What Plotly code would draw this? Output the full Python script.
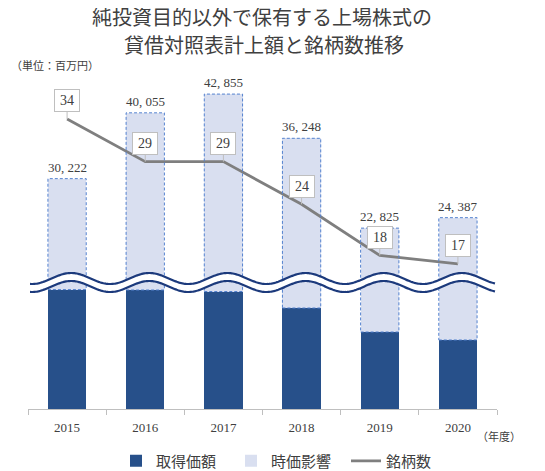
import numpy as np
import plotly.graph_objects as go

# ---------------- data ----------------
years = ["2015", "2016", "2017", "2018", "2019", "2020"]
total_value = [30222, 40055, 42855, 36248, 22825, 24387]        # 貸借対照表計上額 (百万円)
acquisition_cost = [11800, 11760, 11610, 9980, 7610, 6820]      # 取得価額 (estimated)
market_effect = [t - a for t, a in zip(total_value, acquisition_cost)]  # 時価影響
stock_count = [34, 29, 29, 24, 18, 17]                           # 銘柄数

# ---------------- style ----------------
DARK = "#27508A"
LIGHT = "#D9DFF0"
EDGE = "#5482CF"
WAVE = "#1C3A7C"
LINEC = "#7F7F7F"
TXT = "#404040"
FONT = "Liberation Serif, Noto Sans CJK JP, serif"
BAR_W = 0.49

SPLIT = 0.3845            # paper fraction where the axis is broken
LOW_RANGE = [0, 12500]
HIGH_RANGE = [14700, 44960]
COUNT_RANGE = [0, 38.57]

# the page body has an 8px default margin: size the figure to fill the rest
BODY = 8
W, H = 545 - BODY, 471 - BODY
ML, MR, MT, MB = 28 - BODY, 48, 80 - BODY, 62
PW, PH = W - ML - MR, H - MT - MB
X0, Y0 = 28, 409          # window pixel position of plot-area left / bottom


def px_x(px):
    return (px - X0) / PW


def px_y(py):
    return (Y0 - py) / PH


fig = go.Figure()

for yref, show in (("y", True), ("y2", False)):
    fig.add_trace(go.Bar(x=years, y=acquisition_cost, name="取得価額", yaxis=yref,
                         marker=dict(color=DARK, line=dict(width=0)), width=BAR_W,
                         showlegend=show, legendgroup="acq", hoverinfo="skip"))
    fig.add_trace(go.Bar(x=years, y=market_effect, name="時価影響", yaxis=yref,
                         marker=dict(color=LIGHT, line=dict(width=0)), width=BAR_W,
                         showlegend=show, legendgroup="mkt", hoverinfo="skip"))

fig.add_trace(go.Scatter(x=years, y=stock_count, name="銘柄数", yaxis="y3",
                         mode="lines", line=dict(color=LINEC, width=2.75),
                         hoverinfo="skip"))

shapes = []
# dashed outlines of the 時価影響 segments
for i, (a, t) in enumerate(zip(acquisition_cost, total_value)):
    for yref in ("y", "y2"):
        shapes.append(dict(type="rect", xref="x", yref=yref,
                           x0=i - BAR_W / 2, x1=i + BAR_W / 2, y0=a, y1=t,
                           line=dict(color=EDGE, width=1, dash="3px,2px"),
                           fillcolor="rgba(0,0,0,0)", layer="above"))

# wave break symbol
n = len(years)
xs = np.linspace(2 / PW, 1 - 2 / PW, 400)
period = 1 / n
phase = 0.5 / n + 4 / PW
amp = 5.5 / PH
up_c = SPLIT + 4 / PH
lo_c = SPLIT - 4 / PH
wav = np.cos(2 * np.pi * (xs - phase) / period)
up = up_c + amp * wav
lo = lo_c + amp * wav


def pth(xv, yv):
    return "M " + " L ".join(f"{a:.5f},{b:.5f}" for a, b in zip(xv, yv))


fill_path = pth(np.concatenate([xs, xs[::-1]]), np.concatenate([up, lo[::-1]])) + " Z"
shapes.append(dict(type="path", xref="paper", yref="paper", path=fill_path,
                   fillcolor="white", line=dict(width=0), layer="above"))
for yy in (up, lo):
    shapes.append(dict(type="path", xref="paper", yref="paper", path=pth(xs, yy),
                       line=dict(color=WAVE, width=2.2), layer="above"))

annotations = []
# total labels
for i, t in enumerate(total_value):
    annotations.append(dict(x=i, y=t, xref="x", yref="y2", yanchor="bottom",
                            yshift=2, showarrow=False,
                            text=f"{t:,}".replace(",", ", "),
                            font=dict(family=FONT, size=13, color=TXT)))
# callouts for stock count
for i, c in enumerate(stock_count):
    annotations.append(dict(x=i, y=c, xref="x", yref="y3", text=str(c),
                            showarrow=True, arrowhead=0, arrowwidth=1,
                            arrowcolor="#BFBFBF", ax=0, ay=-18,
                            bgcolor="white", bordercolor="#BFBFBF", borderwidth=1,
                            borderpad=2, width=20, height=17,
                            font=dict(family=FONT, size=14, color=TXT)))
# title
annotations.append(dict(x=px_x(262), y=px_y(18), xref="paper", yref="paper",
                        text="純投資目的以外で保有する上場株式の", showarrow=False,
                        yanchor="middle", font=dict(family=FONT, size=20, color=TXT)))
annotations.append(dict(x=px_x(264), y=px_y(46), xref="paper", yref="paper",
                        text="貸借対照表計上額と銘柄数推移", showarrow=False,
                        yanchor="middle", font=dict(family=FONT, size=20, color=TXT)))
annotations.append(dict(x=px_x(BODY + 1), y=px_y(65), xref="paper", yref="paper",
                        text="（単位：百万円）", showarrow=False, xanchor="left",
                        yanchor="middle", font=dict(family=FONT, size=11, color=TXT)))
annotations.append(dict(x=px_x(499), y=px_y(437), xref="paper", yref="paper",
                        text="（年度）", showarrow=False, xanchor="center",
                        yanchor="middle", font=dict(family=FONT, size=11, color=TXT)))

hidden = dict(visible=False, showgrid=False, zeroline=False, fixedrange=True)
fig.update_layout(
    width=W, height=H,
    margin=dict(l=ML, r=MR, t=MT, b=MB, autoexpand=False),
    paper_bgcolor="white", plot_bgcolor="rgba(0,0,0,0)",
    barmode="stack",
    font=dict(family=FONT, color=TXT),
    xaxis=dict(type="category", categoryorder="array", categoryarray=years,
               range=[-0.5, n - 0.5], autorange=False,
               anchor="y", domain=[0, 1], tickson="boundaries",
               ticks="outside", ticklen=5, tickcolor="#BFBFBF", showline=True,
               linecolor="#BFBFBF", linewidth=1, showgrid=False,
               ticklabelstandoff=6,
               tickfont=dict(family=FONT, size=13, color=TXT)),
    yaxis=dict(domain=[0, SPLIT], range=LOW_RANGE, anchor="x", **hidden),
    yaxis2=dict(domain=[SPLIT, 1], range=HIGH_RANGE, anchor="x", **hidden),
    yaxis3=dict(domain=[0, 1], range=COUNT_RANGE, anchor="x", **hidden),
    legend=dict(orientation="h", x=px_x(116), xanchor="left",
                y=px_y(461), yanchor="middle", entrywidth=70,
                font=dict(family=FONT, size=15, color=TXT), itemwidth=30,
                traceorder="normal"),
    shapes=shapes,
    annotations=annotations,
    showlegend=True,
)

fig.write_html("out.html")
